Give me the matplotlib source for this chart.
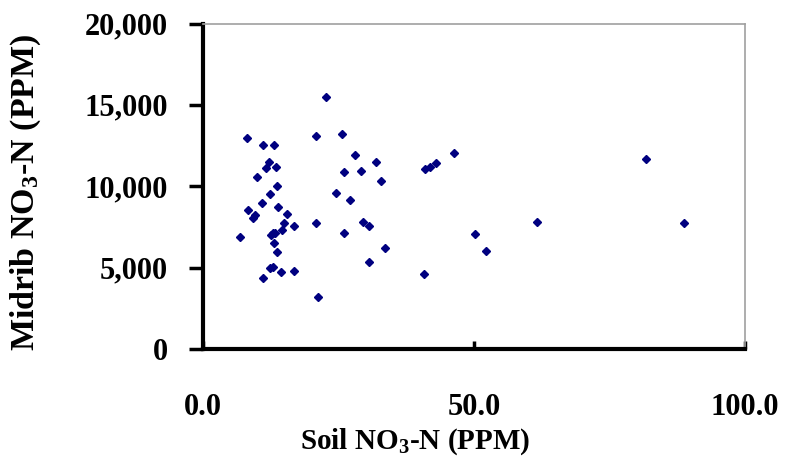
import matplotlib
matplotlib.use("Agg")
import matplotlib.pyplot as plt
from matplotlib.ticker import FuncFormatter

plt.rcParams['font.family'] = ['Liberation Serif', 'DejaVu Serif']
plt.rcParams['font.weight'] = 'bold'
plt.rcParams['mathtext.fontset'] = 'custom'
plt.rcParams['mathtext.rm'] = 'Liberation Serif:bold'
plt.rcParams['mathtext.bf'] = 'Liberation Serif:bold'
plt.rcParams['mathtext.it'] = 'Liberation Serif:bold'

soil_no3 = [22.69, 8.06, 11.13, 13.10, 20.90, 25.59, 28.04, 12.23, 11.62, 13.41,
            9.91, 25.96, 29.10, 13.65, 12.31, 24.48, 10.83, 27.07, 13.89, 8.25,
            9.54, 9.28, 15.44, 14.89, 16.73, 20.90, 29.58, 30.57, 6.83, 12.86,
            13.34, 12.60, 14.63, 13.10, 13.65, 25.96, 30.68, 12.36, 12.86, 14.39,
            16.73, 11.13, 21.16, 31.86, 32.84, 40.90, 41.94, 43.04, 46.31, 61.68,
            50.13, 52.27, 33.63, 40.72, 81.73, 88.75]
midrib_no3 = [15465, 12946, 12535, 12535, 13106, 13210, 11939, 11472, 11140, 11164,
              10568, 10857, 10937, 9997, 9505, 9585, 8971, 9174, 8743, 8522,
              8233, 8068, 8313, 7742, 7576, 7724, 7822, 7576, 6882, 7109,
              7146, 6986, 7293, 6531, 5978, 7146, 5364, 4995, 5038, 4713,
              4793, 4363, 3177, 11508, 10341, 11078, 11164, 11429, 12025, 7822,
              7066, 6040, 6224, 4608, 11674, 7724]

x_ticks = [0, 50, 100]
y_ticks = [0, 5000, 10000, 15000, 20000]

fig = plt.figure(figsize=(7.92, 4.70), dpi=100)
ax = fig.add_axes([203/792, 1-349/470, (745-203)/792, (349-23.5)/470])

ax.plot(soil_no3, midrib_no3, linestyle='none', marker='D', ms=3.8,
        color='#000080', mec='#000080')

ax.set_xlim(0, 100)
ax.set_ylim(0, 20000)
ax.set_xticks(x_ticks)
ax.set_yticks(y_ticks)
ax.xaxis.set_major_formatter(FuncFormatter(lambda v, p: f"{v:.1f}"))
ax.yaxis.set_major_formatter(FuncFormatter(lambda v, p: f"{int(v):,}"))

for s in ['left', 'bottom']:
    ax.spines[s].set_linewidth(3)
    ax.spines[s].set_color('black')
for s in ['top', 'right']:
    ax.spines[s].set_linewidth(1.2)
    ax.spines[s].set_color('#a0a0a0')

ax.tick_params(axis='y', direction='out', length=10, width=2.5, pad=15,
               labelsize=22)
ax.tick_params(axis='x', direction='in', length=6, width=2.5, pad=32,
               labelsize=22)
for lab in ax.get_xticklabels() + ax.get_yticklabels():
    lab.set_fontweight('bold')

ax.set_xlabel('Soil NO$_{3}$-N (PPM)', fontsize=21, fontweight='bold')
ax.xaxis.set_label_coords(0.391, -0.285)
ax.xaxis.label.set_verticalalignment('center')
ax.set_ylabel('Midrib NO$_{3}$-N (PPM)', fontsize=24.5, fontweight='bold')
ax.yaxis.set_label_coords(-0.327, 0.482)
ax.yaxis.label.set_verticalalignment('center')

fig.savefig('out.png', dpi=100)
